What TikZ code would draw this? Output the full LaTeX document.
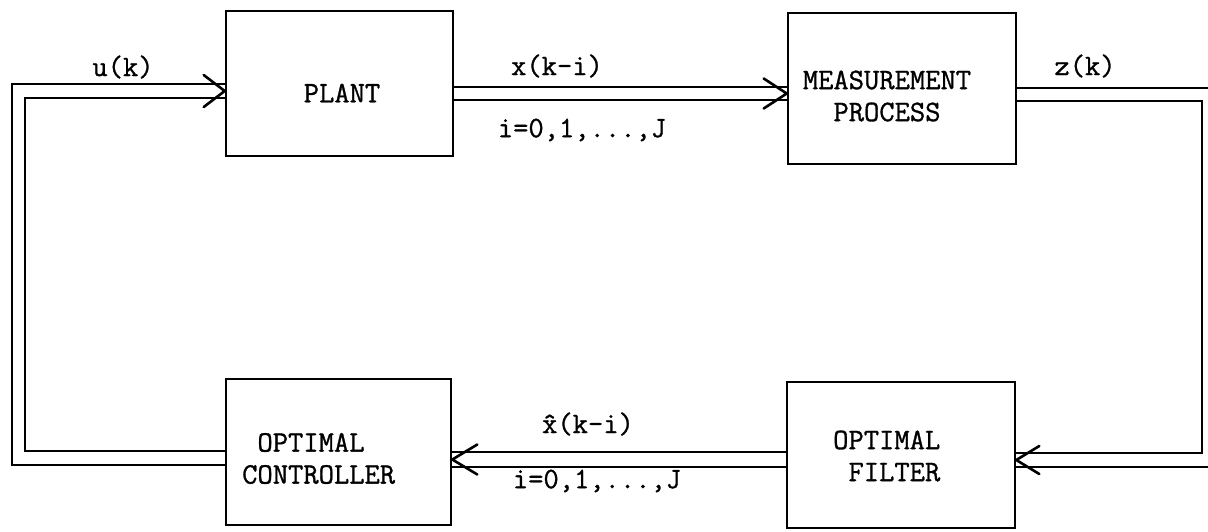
\documentclass[tikz,border=0pt]{standalone}
\usepackage{fontspec}
\newfontfamily\typewr{Latin Modern Mono}[FakeBold=1]
\usetikzlibrary{calc}
\begin{document}
\begin{tikzpicture}[x=1pt,y=-1pt,
  conn/.style={line width=2.6pt, line join=miter, line cap=round},
  blk/.style={draw, line width=2.6pt, rectangle, inner sep=0pt},
  txt/.style={inner sep=0pt, font=\typewr\fontsize{29.7}{32}\selectfont},
]
\clip (0,0) rectangle (1208,531);
\fill[white] (0,0) rectangle (1208,531);
% blocks
\node[blk, minimum width=227pt, minimum height=145pt] (plant) at (339.5,83.5) {};
\node[blk, minimum width=228pt, minimum height=151pt] (meas) at (902,88.5) {};
\node[blk, minimum width=225pt, minimum height=146pt] (ctrl) at (338.5,452) {};
\node[blk, minimum width=228pt, minimum height=146pt] (filt) at (901,455) {};
% block texts
\node[txt] (tplant) at (342,93) {PLANT};
\node[txt, align=center] (tmeas) at (887,96) {MEASUREMENT\\PROCESS};
\node[txt, align=left, anchor=west] (tctrl) at (242,458.5) {\hphantom{C}OPTIMAL\\CONTROLLER};
\node[txt, align=left, anchor=west] (tfilt) at (833,456) {OPTIMAL\\\hphantom{O}FILTER};
% signal labels
\node[txt] (lu) at (123,67) {u(k)};
\node[txt] (lx) at (557,66) {x(k-i)};
\node[txt] (li1) at (582,130) {i=0,1,...,J};
\node[txt] (lz) at (1085,66) {z(k)};
\node[txt] (lxh) at (588,424) {\^{x}(k-i)};
\node[txt] (li2) at (597,481) {i=0,1,...,J};
% u(k): controller -> plant (double line)
\draw[conn] (ctrl.west |- 0,465) -| (12,84) -- (plant.west |- 0,84);
\draw[conn] (ctrl.west |- 0,451) -| (25,98) -- (plant.west |- 0,98);
\draw[conn] ($(plant.west |- 0,91)+(-21,-16)$) -- (plant.west |- 0,91) -- ++(-21,16);
% x(k-i): plant -> measurement
\draw[conn] (plant.east |- 0,87) -- (meas.west |- 0,87);
\draw[conn] (plant.east |- 0,100) -- (meas.west |- 0,100);
\draw[conn] ($(meas.west |- 0,93.5)+(-23,-15)$) -- (meas.west |- 0,93.5) -- ++(-23,15);
% z(k): measurement -> filter
\draw[conn] (meas.east |- 0,88) -| (1214,467) -- (filt.east |- 0,467);
\draw[conn] (meas.east |- 0,101) -| (1202,453) -- (filt.east |- 0,453);
\draw[conn] ($(filt.east |- 0,460)+(23,-14)$) -- (filt.east |- 0,460) -- ++(23,14);
% xhat(k-i): filter -> controller
\draw[conn] (filt.west |- 0,452) -- (ctrl.east |- 0,452);
\draw[conn] (filt.west |- 0,467) -- (ctrl.east |- 0,467);
\draw[conn] ($(ctrl.east |- 0,459.5)+(25,-15)$) -- (ctrl.east |- 0,459.5) -- ++(25,15);
\end{tikzpicture}
\end{document}
